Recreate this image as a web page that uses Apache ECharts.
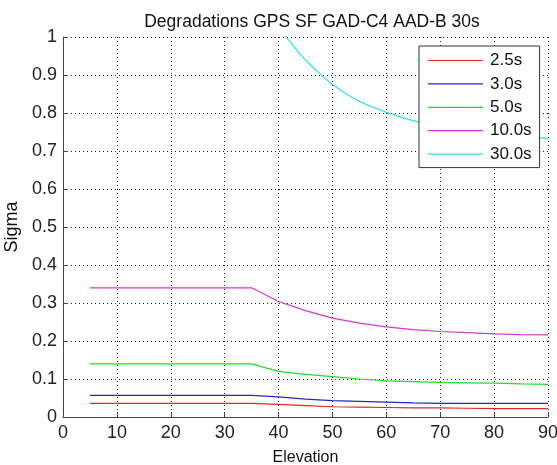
<!DOCTYPE html>
<html>
<head>
<meta charset="utf-8">
<script src="https://cdn.jsdelivr.net/npm/echarts@6/dist/echarts.min.js"></script>
<style>html,body{margin:0;padding:0;background:#fff}#c{width:557px;height:465px}</style>
</head>
<body>
<div id="c"></div>
<script>
var elevation = [5, 10, 15, 20, 25, 30, 35, 40, 45, 50, 55, 60, 65, 70, 75, 80, 85, 90];
var sigma25  = [0.036,0.036,0.036,0.036,0.036,0.036,0.036,0.033,0.030,0.027,0.026,0.025,0.024,0.024,0.023,0.022,0.022,0.022];
var sigma30  = [0.057,0.057,0.057,0.057,0.057,0.057,0.057,0.053,0.047,0.043,0.041,0.039,0.037,0.036,0.036,0.036,0.036,0.036];
var sigma50  = [0.140,0.140,0.140,0.140,0.140,0.140,0.140,0.120,0.112,0.106,0.100,0.095,0.093,0.091,0.090,0.089,0.087,0.086];
var sigma100 = [0.340,0.340,0.340,0.340,0.340,0.340,0.340,0.304,0.280,0.260,0.247,0.237,0.230,0.225,0.222,0.219,0.217,0.216];
var elev300  = [40, 42, 44, 46, 48, 50, 52, 54, 56, 58, 60, 63, 66, 70, 75, 80, 85, 90];
var sigma300 = [1.025,0.990,0.955,0.925,0.899,0.875,0.855,0.838,0.824,0.812,0.802,0.788,0.776,0.763,0.752,0.744,0.738,0.733];
var names = ['2.5s','3.0s','5.0s','10.0s','30.0s'];
var colors = ['#e02828','#2828b0','#28d828','#d038d0','#30e0e0'];

function pairs(xs, ys){ return xs.map(function(x,i){ return [x, ys[i]]; }); }
var seriesData = [pairs(elevation,sigma25), pairs(elevation,sigma30), pairs(elevation,sigma50), pairs(elevation,sigma100), pairs(elev300,sigma300)];

var font = '"Liberation Sans", Arial, sans-serif';
var chart = echarts.init(document.getElementById('c'), null, {renderer:'canvas'});
chart.setOption({
  animation: false,
  backgroundColor: '#fff',
  title: {
    text: 'Degradations GPS SF GAD-C4 AAD-B 30s',
    left: 307, top: 8, textAlign: 'center',
    textStyle: {fontFamily: font, fontSize: 17.5, fontWeight: 'normal', color: '#111'}
  },
  grid: {left: 63, right: 9, top: 37, bottom: 48, containLabel: false, outerBoundsMode: 'none'},
  legend: {
    orient: 'vertical', left: 419, top: 46,
    data: names,
    icon: 'rect', itemWidth: 55, itemHeight: 1.2, itemGap: 6.4,
    padding: [6, 8, 5, 9],
    backgroundColor: '#fff', borderColor: '#333', borderWidth: 1, borderRadius: 0,
    textStyle: {fontFamily: font, fontSize: 17, color: '#111', lineHeight: 17, padding: [0,0,0,2]}
  },
  xAxis: {
    type: 'value', min: 0, max: 90, interval: 10,
    name: 'Elevation', nameLocation: 'middle', nameGap: 33,
    nameTextStyle: {fontFamily: font, fontSize: 16, color: '#111'},
    axisLine: {show: true, lineStyle: {color: '#444', width: 1}},
    axisTick: {show: true, inside: true, length: 5, lineStyle: {color: '#444'}},
    axisLabel: {fontFamily: font, fontSize: 18, color: '#222', margin: 7},
    splitLine: {show: true, lineStyle: {type: [1, 3], color: '#222', width: 1}}
  },
  yAxis: {
    type: 'value', min: 0, max: 1, interval: 0.1,
    name: 'Sigma', nameLocation: 'middle', nameGap: 35, nameRotate: 90,
    nameTextStyle: {fontFamily: font, fontSize: 18, color: '#111'},
    axisLine: {show: true, lineStyle: {color: '#444', width: 1}},
    axisTick: {show: true, inside: true, length: 5, lineStyle: {color: '#444'}},
    axisLabel: {fontFamily: font, fontSize: 18, color: '#222', margin: 6,
      formatter: function(v){ return String(Math.round(v*10)/10); }},
    splitLine: {show: true, lineStyle: {type: [1, 3], color: '#222', width: 1}}
  },
  series: names.map(function(n, i){
    return {
      name: n, type: 'line', data: seriesData[i], clip: true,
      symbol: 'none', showSymbol: false,
      lineStyle: {color: colors[i], width: 1.2},
      itemStyle: {color: colors[i]}
    };
  })
});
</script>
</body>
</html>
